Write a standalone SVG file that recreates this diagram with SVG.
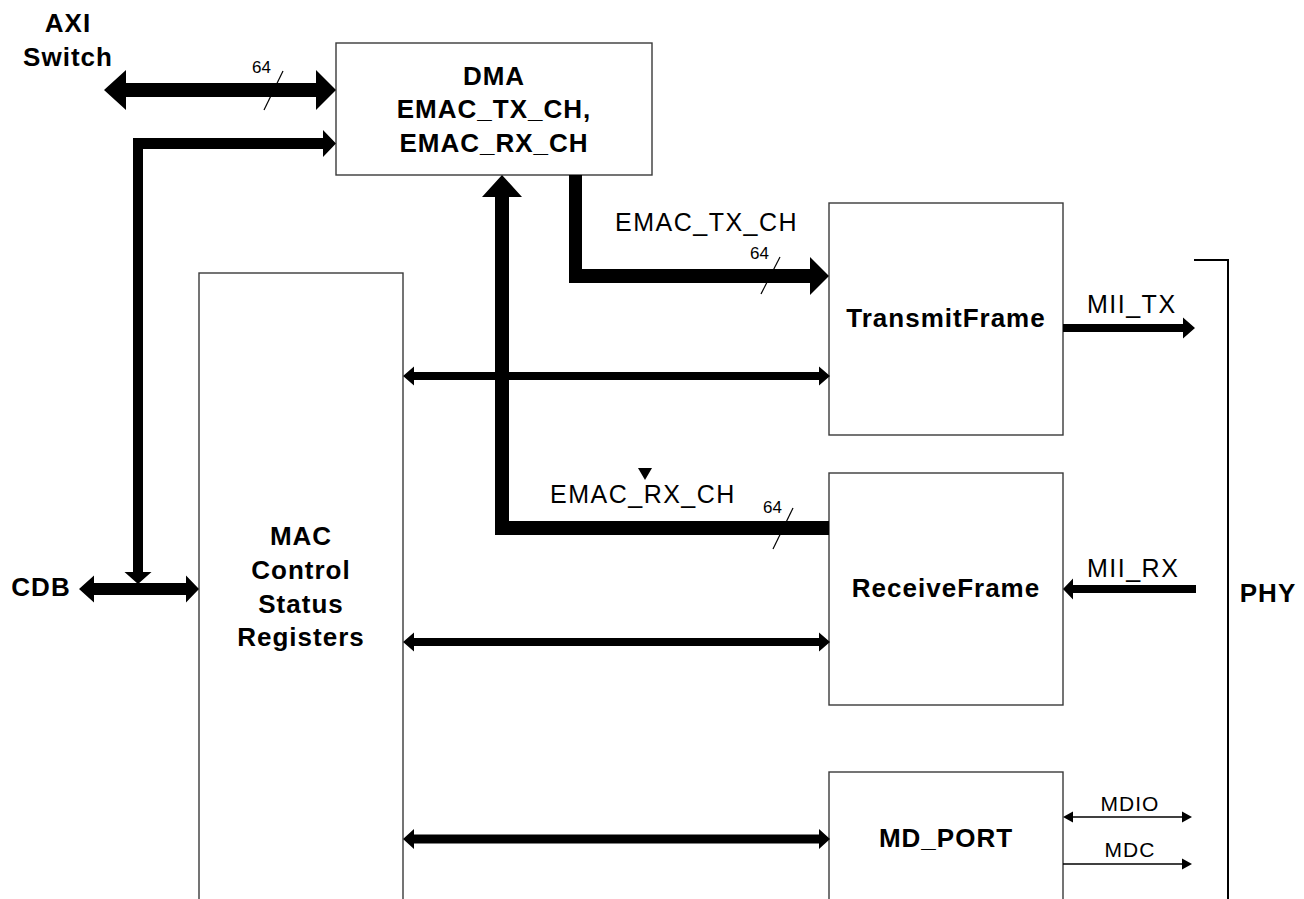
<svg xmlns="http://www.w3.org/2000/svg" width="1304" height="899" viewBox="0 0 1304 899">
<style>
.box{fill:#fff;stroke:#3a3a3a;stroke-width:1.4}
.bt{font-family:"Liberation Sans",Arial,sans-serif;font-weight:bold;font-size:26px;letter-spacing:1px;fill:#000;text-anchor:middle}
.lb{font-family:"Liberation Sans",Arial,sans-serif;font-size:25px;letter-spacing:1.5px;fill:#000}
.sm{font-family:"Liberation Sans",Arial,sans-serif;font-size:17px;fill:#000}
.md{font-family:"Liberation Sans",Arial,sans-serif;font-size:21px;letter-spacing:1px;fill:#000;text-anchor:middle}
.ar{fill:#000;stroke:none}
.thin{stroke:#000;stroke-width:1.5;fill:none}
</style>
<rect width="1304" height="899" fill="#fff"/>

<g id="dma">
<rect class="box" x="336" y="43" width="316" height="132"/>
<text class="bt" x="494" y="85">DMA</text>
<text class="bt" x="494" y="118">EMAC_TX_CH,</text>
<text class="bt" x="494" y="152">EMAC_RX_CH</text>
</g>
<g id="mac">
<rect class="box" x="199" y="273" width="204" height="660"/>
<text class="bt" x="301" y="545">MAC</text>
<text class="bt" x="301" y="579">Control</text>
<text class="bt" x="301" y="613">Status</text>
<text class="bt" x="301" y="646">Registers</text>
</g>
<g id="transmit">
<rect class="box" x="829" y="203" width="234" height="232"/>
<text class="bt" x="946" y="327">TransmitFrame</text>
</g>
<g id="receive">
<rect class="box" x="829" y="473" width="234" height="232"/>
<text class="bt" x="946" y="597">ReceiveFrame</text>
</g>
<g id="mdport">
<rect class="box" x="829" y="772" width="234" height="160"/>
<text class="bt" x="946" y="847">MD_PORT</text>
</g>
<g id="axi">
<text class="bt" x="68" y="32">AXI</text>
<text class="bt" x="68" y="66">Switch</text>
</g>
<g id="cdb">
<text class="bt" x="41" y="596">CDB</text>
</g>
<g id="phy">
<path d="M1194 260 H1228 V905" stroke="#000" stroke-width="2" fill="none"/>
<text class="bt" x="1268" y="602">PHY</text>
</g>

<g id="connectors">
<!-- AXI <-> DMA -->
<polygon class="ar" points="104,90 126,70 126,83 316,83 316,70 336,90 316,110 316,97 126,97 126,110"/>
<line x1="283" y1="71" x2="264" y2="110" stroke="#000" stroke-width="1.2"/>
<text class="sm" x="252" y="73">64</text>
<!-- CDB bus to DMA -->
<polygon class="ar" points="133,138 323,138 323,130 336,143.5 323,157 323,149 143,149 143,572 151.5,572 138,584 124.5,572 133,572"/>
<!-- CDB <-> MAC -->
<polygon class="ar" points="79,589 94,575.5 94,583 186,583 186,575.5 199,589 186,602.5 186,595 94,595 94,602.5"/>
<!-- RX channel to DMA -->
<polygon class="ar" points="502,175 522,197 509,197 509,521 829,521 829,535 495,535 495,197 482,197"/>
<polygon class="ar" points="638,468 652,468 645,480"/>
<text class="lb" x="550" y="503">EMAC_RX_CH</text>
<line x1="793" y1="508" x2="773" y2="549" stroke="#000" stroke-width="1.2"/>
<text class="sm" x="763" y="513">64</text>
<!-- TX channel from DMA -->
<polygon class="ar" points="569,175 582,175 582,269 810,269 810,257 829,276 810,295 810,283 569,283"/>
<text class="lb" x="615" y="231">EMAC_TX_CH</text>
<line x1="780" y1="257" x2="761" y2="294" stroke="#000" stroke-width="1.2"/>
<text class="sm" x="750" y="259">64</text>
<!-- MAC <-> blocks -->
<polygon class="ar" points="403,376 414,366.5 414,372 819,372 819,366.5 830,376 819,385.5 819,380 414,380 414,385.5"/>
<polygon class="ar" points="403,642 414,632.5 414,638 819,638 819,632.5 830,642 819,651.5 819,646 414,646 414,651.5"/>
<polygon class="ar" points="403,839 414,829 414,834.5 819,834.5 819,829 830,839 819,849 819,843.5 414,843.5 414,849"/>
<!-- MII -->
<polygon class="ar" points="1063,324 1183,324 1183,317.5 1195,328 1183,338.5 1183,332 1063,332"/>
<text class="lb" x="1087" y="313">MII_TX</text>
<polygon class="ar" points="1196,585 1073,585 1073,578.5 1063,589 1073,599.5 1073,593 1196,593"/>
<text class="lb" x="1087" y="577">MII_RX</text>
<!-- MDIO / MDC -->
<line class="thin" x1="1072" y1="817" x2="1182" y2="817"/>
<polygon class="ar" points="1063,817 1073,811.5 1073,822.5"/>
<polygon class="ar" points="1192,817 1182,811.5 1182,822.5"/>
<text class="md" x="1130" y="811">MDIO</text>
<line class="thin" x1="1063" y1="864" x2="1182" y2="864"/>
<polygon class="ar" points="1192,864 1182,858.5 1182,869.5"/>
<text class="md" x="1130" y="857">MDC</text>
</g>
</svg>
